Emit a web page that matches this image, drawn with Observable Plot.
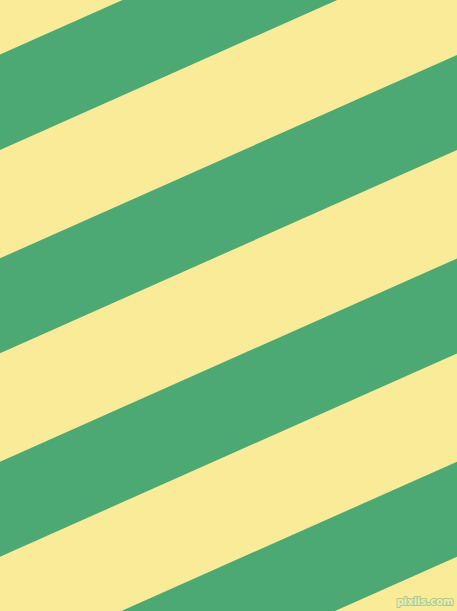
<!DOCTYPE html>
<html>
<head>
<meta charset="utf-8">
<script src="https://cdn.jsdelivr.net/npm/d3@7"></script>
<script src="https://cdn.jsdelivr.net/npm/@observablehq/plot@0.6"></script>
<style>
  html, body { margin: 0; padding: 0; background: #F9EB97; overflow: hidden; }
  #chart svg { display: block; }
</style>
</head>
<body>
<div id="chart"></div>
<script>
// Stripe bands: y of each green band's edges at the left side (x = 0)
const bandIds = [1, 2, 3, 4];
const bandTopLeft = [54.5, 258.3, 461.7, 665];
const bandBottomLeft = [150, 353.3, 556.7, 760];
// Rise of each edge from left to right side
const edgeRise = 203.3;
const xEnds = [0, 457];
const watermark = ["pixiis.com"];

const rows = [];
bandIds.forEach((id, i) => {
  xEnds.forEach((x, j) => {
    rows.push({
      band: id,
      x,
      y1: bandTopLeft[i] - j * edgeRise,
      y2: bandBottomLeft[i] - j * edgeRise
    });
  });
});

const chart = Plot.plot({
  width: 457,
  height: 611,
  margin: 0,
  style: { background: "#F9EB97" },
  x: { domain: [0, 457], axis: null },
  y: { domain: [0, 611], range: [0, 611], axis: null },
  marks: [
    Plot.areaY(rows, { x: "x", y1: "y1", y2: "y2", z: "band", fill: "#4CA974", clip: true }),
    Plot.text(watermark, {
      text: d => d,
      frameAnchor: "bottom-right",
      dx: -4,
      dy: -7,
      fontSize: 10,
      fontFamily: "DejaVu Sans",
      fontWeight: "bold",
      fill: "#EAF0B6",
      stroke: "#AFC98C",
      strokeWidth: 2
    })
  ]
});
document.getElementById("chart").appendChild(chart);
</script>
</body>
</html>
